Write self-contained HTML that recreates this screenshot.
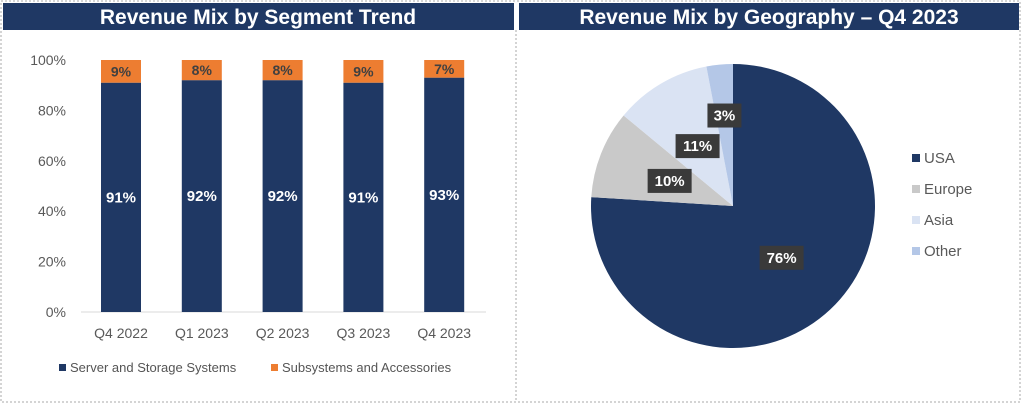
<!DOCTYPE html>
<html><head><meta charset="utf-8"><style>
body{margin:0;width:1022px;height:404px;background:#fff;font-family:"Liberation Sans",sans-serif;overflow:hidden}
</style></head><body>
<svg width="1022" height="404">
<rect x="1" y="1" width="1019" height="401" fill="#fff" stroke="#aaa" stroke-dasharray="2,2"/>
<line x1="516" y1="30" x2="516" y2="402" stroke="#aaa" stroke-dasharray="2,2"/>
<rect x="3" y="3" width="511" height="27" fill="#1f3864"/>
<text x="258" y="24" text-anchor="middle" fill="#fff" font-size="21" font-weight="bold">Revenue Mix by Segment Trend</text>
<rect x="519" y="3" width="500" height="27" fill="#1f3864"/>
<text x="769" y="24" text-anchor="middle" fill="#fff" font-size="21" font-weight="bold">Revenue Mix by Geography – Q4 2023</text>
<g id="bars"></g>
<g id="pie"></g>
<g>
<rect x="59" y="364" width="7" height="7" fill="#1f3864"/><text x="70" y="372" font-size="13" fill="#555">Server and Storage Systems</text>
<rect x="271" y="364" width="7" height="7" fill="#ed7d31"/><text x="282" y="372" font-size="13" fill="#555">Subsystems and Accessories</text>
</g>
</svg>
<script>
const categories=["Q4 2022","Q1 2023","Q2 2023","Q3 2023","Q4 2023"];
const serverVals=[91,92,92,91,93];
const subsysVals=[9,8,8,9,7];
const yTicks=[0,20,40,60,80,100];
const geoNames=["USA","Europe","Asia","Other"];
const geoVals=[76,10,11,3];
const geoColors=["#1f3864","#c9c9c9","#dae3f3","#b4c7e7"];
const NS="http://www.w3.org/2000/svg";
function mk(t,a,p){const e=document.createElementNS(NS,t);for(const k in a)e.setAttribute(k,a[k]);p.appendChild(e);return e;}
const y0=312,y1=60;
const yS=v=>y0-(y0-y1)*v/100;
const xS=i=>121+i*80.8;
const g=document.getElementById('bars');
yTicks.forEach(t=>{const e=mk('text',{x:66,y:yS(t)+5,'text-anchor':'end','font-size':14,fill:'#595959'},g);e.textContent=t+'%';

});
mk('line',{x1:81,x2:486,y1:y0,y2:y0,stroke:'#d9d9d9'},g);
categories.forEach((c,i)=>{
 const x=xS(i)-20,s=serverVals[i],o=subsysVals[i];
 const b=mk('rect',{x:x,y:yS(s),width:40,height:yS(0)-yS(s),fill:'#1f3864'},g);
 
 
 const b2=mk('rect',{x:x,y:yS(s+o),width:40,height:yS(s)-yS(s+o),fill:'#ed7d31'},g);
 
 
 const l=mk('text',{x:xS(i),y:(yS(0)+yS(s))/2+5,'text-anchor':'middle','font-size':15,'font-weight':'bold',fill:'#fff'},g);l.textContent=s+'%';
 
 
 const l2=mk('text',{x:xS(i),y:(yS(s)+yS(s+o))/2+5,'text-anchor':'middle','font-size':14,'font-weight':'bold',fill:'#404040'},g);l2.textContent=o+'%';
 
 
 const t=mk('text',{x:xS(i),y:338,'text-anchor':'middle','font-size':14,fill:'#595959'},g);t.textContent=c;
 
 
});
const p=document.getElementById('pie');
const cx=733,cy=206,r=142;
const tot=geoVals.reduce((a,b)=>a+b,0);
let a=0;
const labelPos=[];
const rrs=[0.5,0.48,0.49,0.64];
geoVals.forEach((v,i)=>{
 const a0=a,a1=a+v/tot*2*Math.PI;a=a1;
 const pt=t=>[cx+r*Math.sin(t),cy-r*Math.cos(t)];
 const [x0,y0_]=pt(a0),[x1,y1_]=pt(a1);
 const s=mk('path',{d:`M${cx},${cy}L${x0},${y0_}A${r},${r} 0 ${a1-a0>Math.PI?1:0} 1 ${x1},${y1_}Z`,fill:geoColors[i]},p);
 
 
 const m=(a0+a1)/2,rr=rrs[i];
 labelPos.push([cx+r*rr*Math.sin(m),cy-r*rr*Math.cos(m)]);
});
geoVals.forEach((v,i)=>{
 const [lx,ly]=labelPos[i];const w=String(v).length>1?44:34;
 mk('rect',{x:lx-w/2,y:ly-12,width:w,height:24,fill:'#3a3a3a'},p);
 const t=mk('text',{x:lx,y:ly+5,'text-anchor':'middle','font-size':15,'font-weight':'bold',fill:'#fff'},p);t.textContent=v+'%';
 
 
 const ly2=159+i*31;
 mk('rect',{x:912,y:ly2-5,width:8,height:8,fill:geoColors[i]},p);
 const lt=mk('text',{x:924,y:ly2+4,'font-size':15,fill:'#595959'},p);lt.textContent=geoNames[i];
 
 
});
</script>
</body></html>
